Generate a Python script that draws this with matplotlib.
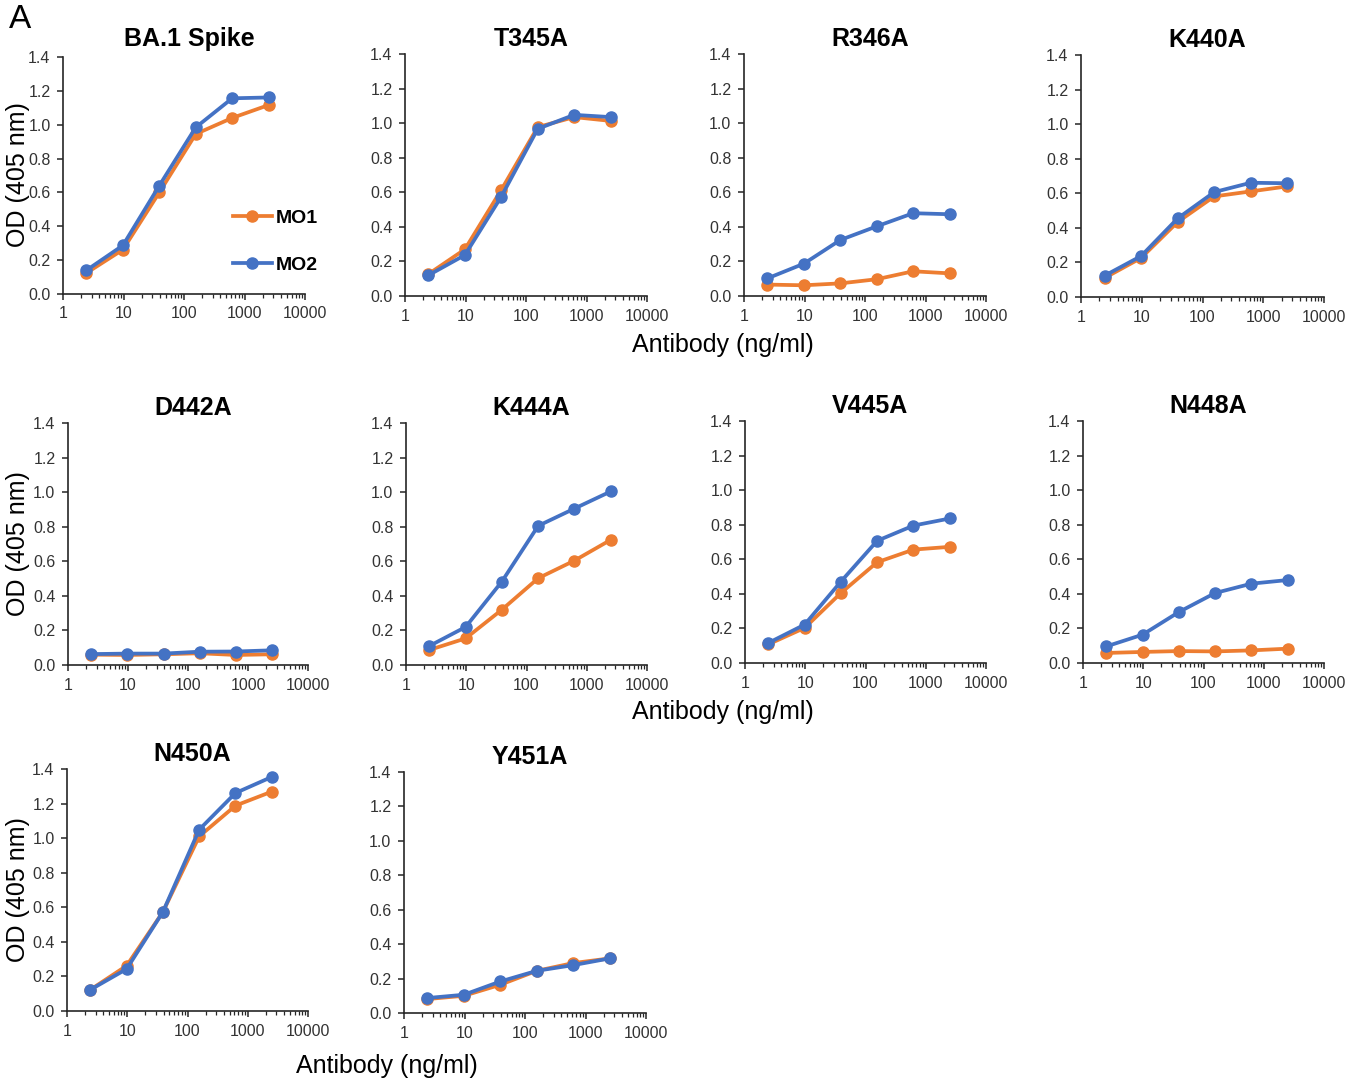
import matplotlib
matplotlib.use('Agg')
import matplotlib.pyplot as plt
from matplotlib.ticker import FixedLocator, LogLocator, FuncFormatter, NullFormatter

plt.rcParams['font.family'] = ['Liberation Sans', 'DejaVu Sans']

# antibody concentrations (ng/ml), 4-fold dilutions
conc = [2.44, 9.77, 39.06, 156.25, 625, 2500]

titles = ['BA.1 Spike', 'T345A', 'R346A', 'K440A',
          'D442A', 'K444A', 'V445A', 'N448A',
          'N450A', 'Y451A']

mo1_ba1 = [0.124, 0.262, 0.60, 0.945, 1.04, 1.116]
mo2_ba1 = [0.14, 0.287, 0.64, 0.984, 1.156, 1.161]
mo1_t345a = [0.127, 0.27, 0.614, 0.977, 1.035, 1.013]
mo2_t345a = [0.12, 0.237, 0.575, 0.967, 1.048, 1.035]
mo1_r346a = [0.066, 0.062, 0.073, 0.097, 0.143, 0.131]
mo2_r346a = [0.102, 0.187, 0.324, 0.403, 0.479, 0.473]
mo1_k440a = [0.11, 0.226, 0.434, 0.582, 0.611, 0.64]
mo2_k440a = [0.123, 0.237, 0.455, 0.607, 0.661, 0.658]
mo1_d442a = [0.06, 0.058, 0.062, 0.068, 0.058, 0.062]
mo2_d442a = [0.063, 0.066, 0.066, 0.077, 0.078, 0.085]
mo1_k444a = [0.087, 0.154, 0.32, 0.502, 0.604, 0.724]
mo2_k444a = [0.11, 0.22, 0.483, 0.805, 0.905, 1.004]
mo1_v445a = [0.108, 0.203, 0.405, 0.583, 0.656, 0.672]
mo2_v445a = [0.116, 0.222, 0.471, 0.707, 0.795, 0.836]
mo1_n448a = [0.058, 0.064, 0.069, 0.067, 0.073, 0.083]
mo2_n448a = [0.096, 0.164, 0.295, 0.405, 0.459, 0.48]
mo1_n450a = [0.123, 0.262, 0.573, 1.01, 1.188, 1.269]
mo2_n450a = [0.123, 0.243, 0.573, 1.049, 1.261, 1.354]
mo1_y451a = [0.081, 0.10, 0.164, 0.245, 0.29, 0.317]
mo2_y451a = [0.087, 0.106, 0.183, 0.245, 0.278, 0.317]

mo1 = [mo1_ba1, mo1_t345a, mo1_r346a, mo1_k440a, mo1_d442a,
       mo1_k444a, mo1_v445a, mo1_n448a, mo1_n450a, mo1_y451a]
mo2 = [mo2_ba1, mo2_t345a, mo2_r346a, mo2_k440a, mo2_d442a,
       mo2_k444a, mo2_v445a, mo2_n448a, mo2_n450a, mo2_y451a]

xticks = [1, 10, 100, 1000, 10000]
yticks = [0.0, 0.2, 0.4, 0.6, 0.8, 1.0, 1.2, 1.4]

ORANGE = '#ED7D31'
BLUE = '#4472C4'

W, H = 1361, 1079
# panel boxes in pixels: left, top, right, bottom
boxes = [(63, 57, 305, 294), (405, 54, 647, 296), (744, 54, 986, 296), (1081, 55, 1324, 297),
         (68, 423, 308, 665), (406, 423, 647, 665), (745, 421, 986, 663), (1083, 421, 1324, 663),
         (67, 769, 308, 1011), (404, 772, 646, 1013)]

fig = plt.figure(figsize=(W / 100, H / 100), dpi=100)

for i, (l, t, r, b) in enumerate(boxes):
    ax = fig.add_axes([l / W, 1 - b / H, (r - l) / W, (b - t) / H])
    ax.plot(conc, mo1[i], color=ORANGE, lw=2.7, marker='o', ms=8, label='MO1', zorder=3)
    ax.plot(conc, mo2[i], color=BLUE, lw=2.7, marker='o', ms=8, label='MO2', zorder=4)
    ax.set_xscale('log')
    ax.set_xlim(1, 10000)
    ax.set_ylim(0, 1.4)
    ax.xaxis.set_major_locator(FixedLocator(xticks))
    ax.xaxis.set_minor_locator(LogLocator(base=10, subs=range(2, 10)))
    ax.xaxis.set_minor_formatter(NullFormatter())
    ax.xaxis.set_major_formatter(FuncFormatter(lambda v, p: f'{v:g}'))
    ax.set_yticks(yticks)
    ax.yaxis.set_major_formatter(FuncFormatter(lambda v, p: f'{v:.1f}'))
    for s in ['top', 'right']:
        ax.spines[s].set_visible(False)
    for s in ['left', 'bottom']:
        ax.spines[s].set_color('#262626')
        ax.spines[s].set_linewidth(1.2)
    ax.tick_params(which='major', length=4, width=1.1, color='#262626',
                   labelsize=11.5, labelcolor='#333333', pad=5)
    ax.tick_params(which='minor', length=3, width=0.9, color='#262626')
    ax.set_title(titles[i], fontsize=18, fontweight='bold', pad=8 if i == 0 else 6,
                 x=0.52)
    if i == 0:
        ax.legend(loc='center left', bbox_to_anchor=(0.63, 0.22), frameon=False,
                  prop={'size': 14, 'weight': 'bold'}, handlelength=2.0,
                  handletextpad=0.2, labelspacing=1.5)

# shared axis labels
for yc in [175, 544, 890]:
    fig.text(18 / W, 1 - yc / H, 'OD (405 nm)', rotation=90, fontsize=18,
             ha='center', va='center')
fig.text(723 / W, 1 - 345 / H, 'Antibody (ng/ml)', fontsize=18, ha='center', va='center')
fig.text(723 / W, 1 - 712 / H, 'Antibody (ng/ml)', fontsize=18, ha='center', va='center')
fig.text(387 / W, 1 - 1066 / H, 'Antibody (ng/ml)', fontsize=18, ha='center', va='center')
fig.text(20 / W, 1 - 20 / H, 'A', fontsize=24, ha='center', va='center')

plt.savefig('out.png', dpi=100)
plt.close()
